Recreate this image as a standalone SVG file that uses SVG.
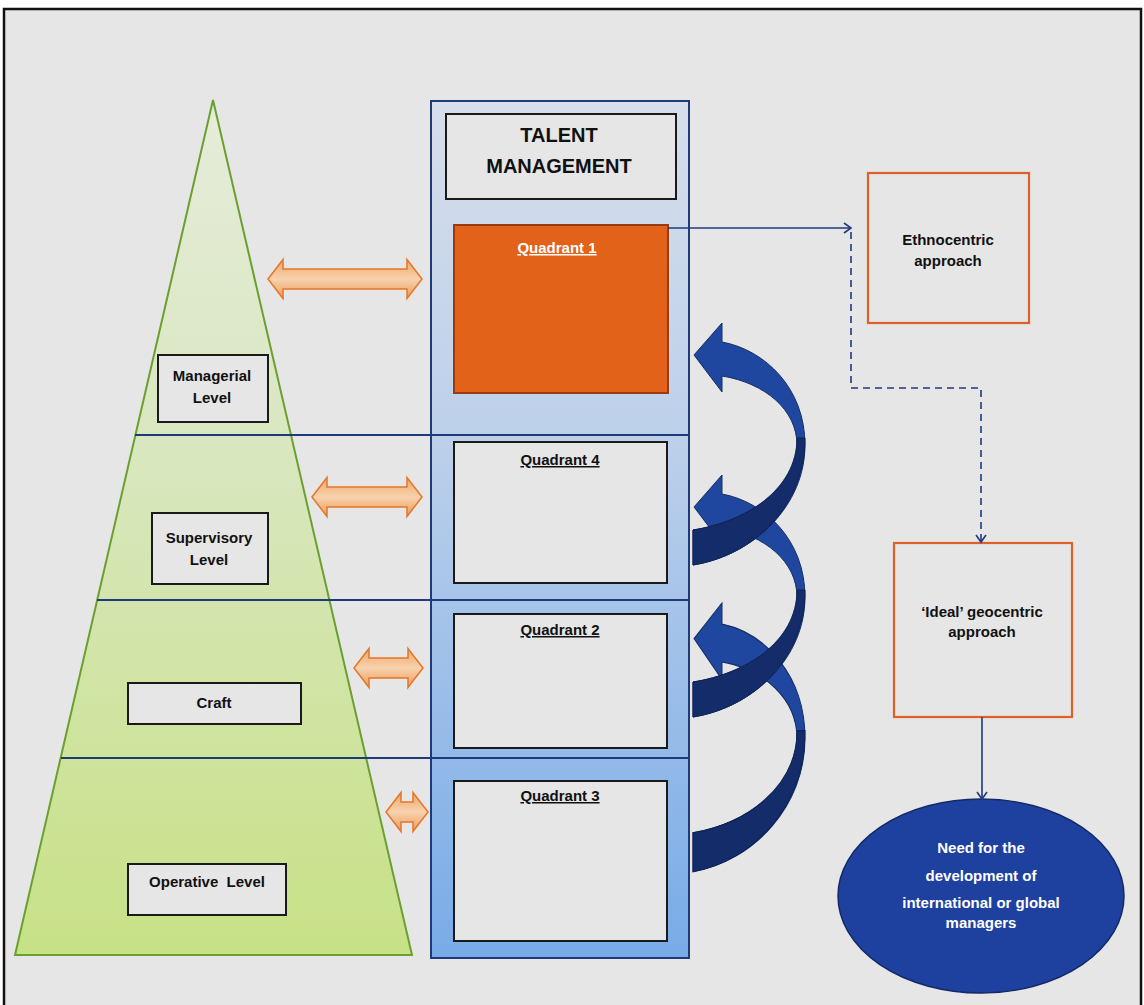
<svg xmlns="http://www.w3.org/2000/svg" width="1144" height="1005" viewBox="0 0 1144 1005">
<defs>
<linearGradient id="gPyr" x1="0" y1="0" x2="0" y2="1">
<stop offset="0" stop-color="#e6ecda"/>
<stop offset="0.4" stop-color="#d9e7c0"/>
<stop offset="1" stop-color="#c7e186"/>
</linearGradient>
<linearGradient id="gCol" x1="0" y1="0" x2="0" y2="1">
<stop offset="0" stop-color="#d6deea"/>
<stop offset="0.4" stop-color="#bcd0ea"/>
<stop offset="1" stop-color="#78abe7"/>
</linearGradient>
<linearGradient id="gOr" x1="0" y1="0" x2="0" y2="1">
<stop offset="0" stop-color="#f1a564"/>
<stop offset="0.5" stop-color="#f7d2ae"/>
<stop offset="1" stop-color="#ee9a55"/>
</linearGradient>
<marker id="chev" markerWidth="12" markerHeight="12" refX="9" refY="6" orient="auto" markerUnits="userSpaceOnUse">
<path d="M2,1 L9,6 L2,11" fill="none" stroke="#1f3a80" stroke-width="1.6"/>
</marker>
<path id="curv" d="M694,355 L722,323 L722,342 C765,350 805,388 805,445 C805,505 755,555 693,565 L693,530 C745,522 797,490 797,445 C797,410 765,383 722,376 L722,392 Z"/>
<path id="curvDark" d="M805,438 C805,505 755,555 693,565 L693,530 C745,522 797,490 797,438 Z"/>
</defs>
<style>
.lbl{font-family:"Liberation Sans",Arial,sans-serif;font-weight:bold;font-size:15px;fill:#111;text-anchor:middle}
.box{fill:#e6e6e6;stroke:#1a1a1a;stroke-width:2}
.quad{fill:#e6e6e6;stroke:#1a1a1a;stroke-width:2}
.div{stroke:#1f3a7a;stroke-width:2}
.orarr{fill:url(#gOr);stroke:#e5762a;stroke-width:1.5}
.conn{fill:none;stroke:#1f3a80;stroke-width:1.6}
.obox{fill:none;stroke:#e0602a;stroke-width:2.2}
.light{fill:#1f47a0;stroke:#152c66;stroke-width:1}
.dark{fill:#142d6a;stroke:#0f2255;stroke-width:1}
</style>
<rect x="0" y="0" width="1144" height="1005" fill="#ffffff"/>
<rect x="4" y="9" width="1137" height="1000" fill="#e6e6e6" stroke="#111" stroke-width="2.5"/>

<g id="pyramid">
<polygon points="213,100 412,955 15,955" fill="url(#gPyr)" stroke="#6aa030" stroke-width="2"/>
</g>

<g id="talent-column">
<rect x="431" y="101" width="258" height="857" fill="url(#gCol)" stroke="#1f3a7a" stroke-width="2"/>
</g>

<g id="dividers">
<line class="div" x1="135" y1="435" x2="690" y2="435"/>
<line class="div" x1="97" y1="600" x2="690" y2="600"/>
<line class="div" x1="61" y1="758" x2="690" y2="758"/>
</g>

<g id="title">
<rect class="box" x="446" y="114" width="230" height="85"/>
<text class="lbl" x="559" y="142" style="font-size:20px">TALENT</text>
<text class="lbl" x="559" y="173" style="font-size:20px">MANAGEMENT</text>
</g>

<g id="quadrant1">
<rect x="454" y="225" width="214" height="168" fill="#e2621a" stroke="#9a3a10" stroke-width="2"/>
<text class="lbl" x="557" y="253" style="fill:#ffffff;text-decoration:underline">Quadrant  1</text>
</g>
<g id="quadrant4">
<rect class="quad" x="454" y="442" width="213" height="141"/>
<text class="lbl" x="560" y="465" style="text-decoration:underline">Quadrant  4</text>
</g>
<g id="quadrant2">
<rect class="quad" x="454" y="614" width="213" height="134"/>
<text class="lbl" x="560" y="635" style="text-decoration:underline">Quadrant  2</text>
</g>
<g id="quadrant3">
<rect class="quad" x="454" y="781" width="213" height="160"/>
<text class="lbl" x="560" y="801" style="text-decoration:underline">Quadrant  3</text>
</g>

<g id="managerial">
<rect class="box" x="158" y="355" width="110" height="67"/>
<text class="lbl" x="212" y="381">Managerial</text>
<text class="lbl" x="212" y="403">Level</text>
</g>
<g id="supervisory">
<rect class="box" x="152" y="513" width="116" height="71"/>
<text class="lbl" x="209" y="543">Supervisory</text>
<text class="lbl" x="209" y="565">Level</text>
</g>
<g id="craft">
<rect class="box" x="128" y="683" width="173" height="41"/>
<text class="lbl" x="214" y="708">Craft</text>
</g>
<g id="operative">
<rect class="box" x="128" y="864" width="158" height="51"/>
<text class="lbl" x="207" y="887" xml:space="preserve">Operative  Level</text>
</g>

<g id="double-arrows">
<path class="orarr" d="M268,279 L283,259.5 L283,269 L407,269 L407,259.5 L422,279 L407,298.5 L407,289 L283,289 L283,298.5 Z"/>
<path class="orarr" d="M312,497 L327,477.5 L327,487 L407,487 L407,477.5 L422,497 L407,516.5 L407,507 L327,507 L327,516.5 Z"/>
<path class="orarr" d="M354,668 L369,648.5 L369,658 L408,658 L408,648.5 L423,668 L408,687.5 L408,678 L369,678 L369,687.5 Z"/>
<path class="orarr" d="M386,812 L401,792.5 L401,802 L413,802 L413,792.5 L428,812 L413,831.5 L413,822 L401,822 L401,831.5 Z"/>
</g>

<g id="curved-arrows">
<g transform="translate(0,603) scale(1,1.11) translate(0,-323)">
<use href="#curv" class="light"/>
<use href="#curvDark" class="dark"/>
</g>
<g transform="translate(0,152)">
<use href="#curv" class="light"/>
<use href="#curvDark" class="dark"/>
</g>
<g>
<use href="#curv" class="light"/>
<use href="#curvDark" class="dark"/>
</g>
</g>

<g id="ethnocentric">
<rect class="obox" x="868" y="173" width="161" height="150"/>
<text class="lbl" x="948" y="245">Ethnocentric</text>
<text class="lbl" x="948" y="266">approach</text>
</g>
<g id="geocentric">
<rect class="obox" x="894" y="543" width="178" height="174"/>
<text class="lbl" x="982" y="617">‘Ideal’ geocentric</text>
<text class="lbl" x="982" y="637">approach</text>
</g>
<g id="need">
<ellipse cx="981" cy="896" rx="143" ry="97" fill="#1e409e" stroke="#142a66" stroke-width="1.5"/>
<text class="lbl" x="981" y="853" style="fill:#ffffff">Need for the</text>
<text class="lbl" x="981" y="881" style="fill:#ffffff">development of</text>
<text class="lbl" x="981" y="908" style="fill:#ffffff">international or global</text>
<text class="lbl" x="981" y="928" style="fill:#ffffff">managers</text>
</g>

<g id="connectors">
<path class="conn" d="M668,228 L851,228" marker-end="url(#chev)"/>
<path class="conn" d="M851,232 L851,388 L981,388 L981,542" stroke-dasharray="7,5" marker-end="url(#chev)"/>
<path class="conn" d="M982,717 L982,799" marker-end="url(#chev)"/>
</g>
</svg>
